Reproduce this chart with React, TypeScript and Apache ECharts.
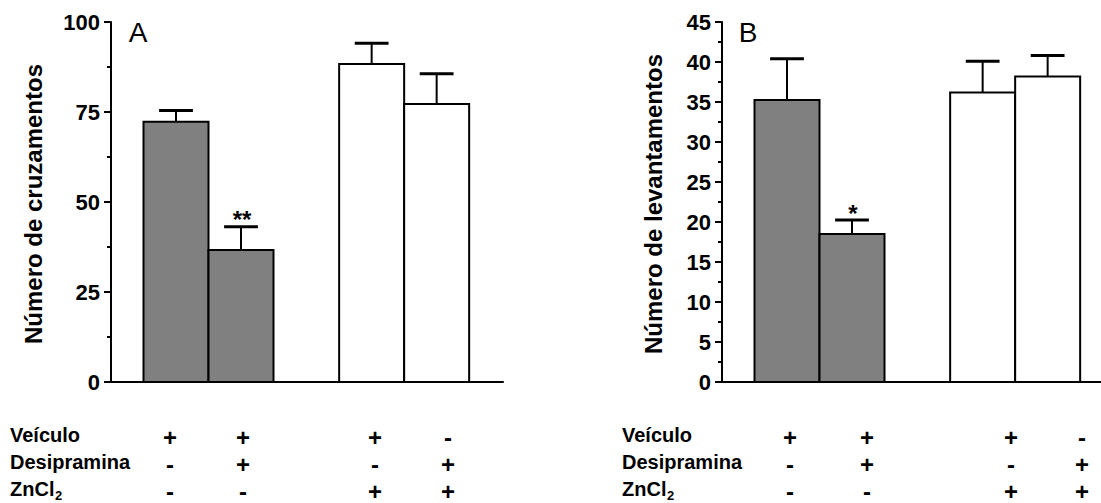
import React, { useEffect, useRef } from "react";
import * as echarts from "echarts";

// ---- data ----
const groupLabels = ["Veículo + Veículo", "Veículo + Desipramina", "Veículo + ZnCl2", "Desipramina + ZnCl2"];
const crossMeans = [72.3, 36.7, 88.3, 77.2];
const crossSem = [3.1, 6.4, 5.8, 8.4];
const crossSig = ["", "**", "", ""];
const rearMeans = [35.25, 18.5, 36.2, 38.2];
const rearSem = [5.15, 1.75, 3.9, 2.6];
const rearSig = ["", "*", "", ""];
const crossTicks = [0, 25, 50, 75, 100];
const rearTicks = [0, 5, 10, 15, 20, 25, 30, 35, 40, 45];
const rowLabels = ["Veículo", "Desipramina", "ZnCl"];
const signVeiculo = ["+", "+", "+", "-"];
const signDesipramina = ["-", "+", "-", "+"];
const signZnCl2 = ["-", "-", "+", "+"];

// ---- layout / style constants ----
const FONT = "Liberation Sans";
const slots = [1, 2, 4.01, 5.01];
const barFills = ["#808080", "#808080", "#ffffff", "#ffffff"];
const UNIT = 65;

function barSeries(means: number[], sems: number[], sigs: string[], idx: number) {
  return {
    type: "custom",
    xAxisIndex: idx,
    yAxisIndex: idx,
    clip: false,
    data: means.map((m, i) => ({ name: groupLabels[i], value: [slots[i], m, sems[i], i] })),
    renderItem: (params: any, api: any) => {
      const x = api.value(0);
      const m = api.value(1);
      const s = api.value(2);
      const i = api.value(3);
      const top = api.coord([x, m]);
      const base = api.coord([x, 0]);
      const et = api.coord([x, m + s]);
      const w = api.size([1, 0])[0];
      const capHalf = w * 0.26;
      const children: any[] = [
        {
          type: "rect",
          shape: { x: top[0] - w / 2, y: top[1], width: w, height: base[1] - top[1] },
          style: { fill: barFills[i], stroke: "#000", lineWidth: 2 },
        },
        {
          type: "line",
          shape: { x1: top[0], y1: top[1], x2: top[0], y2: et[1] },
          style: { stroke: "#000", lineWidth: 2 },
        },
        {
          type: "line",
          shape: { x1: top[0] - capHalf, y1: et[1], x2: top[0] + capHalf, y2: et[1] },
          style: { stroke: "#000", lineWidth: 3 },
        },
      ];
      if (sigs[i]) {
        children.push({
          type: "text",
          style: {
            text: sigs[i],
            x: top[0] + 1,
            y: et[1] - 7,
            align: "center",
            verticalAlign: "middle",
            fontSize: 24,
            fontWeight: 700,
            fontFamily: FONT,
            fill: "#000",
          },
        });
      }
      return { type: "group", children };
    },
  };
}

function yAxisCfg(idx: number, max: number, interval: number) {
  return {
    type: "value",
    gridIndex: idx,
    min: 0,
    max,
    interval,
    axisLine: { show: true, lineStyle: { color: "#000", width: 2 } },
    axisTick: { show: true, length: 7, lineStyle: { color: "#000", width: 2 } },
    minorTick: { show: true, splitNumber: 2, length: 4, lineStyle: { color: "#000", width: 2 } },
    splitLine: { show: false },
    axisLabel: { color: "#000", fontSize: 22, fontWeight: 700, fontFamily: FONT, margin: 11 },
  };
}

function xAxisCfg(idx: number, lengthPx: number) {
  return {
    type: "value",
    gridIndex: idx,
    min: 0,
    max: lengthPx / UNIT,
    axisLine: { show: true, onZero: false, lineStyle: { color: "#000", width: 2 } },
    axisTick: { show: false },
    axisLabel: { show: false },
    splitLine: { show: false },
  };
}

function tableGraphics(labelX: number, colX: number[]) {
  const rowsY = [435, 462, 489];
  const els: any[] = [];
  rowLabels.forEach((t, r) => {
    els.push({
      type: "text",
      style: { text: t, x: labelX, y: rowsY[r], align: "left", verticalAlign: "middle", fontSize: 20, fontWeight: 700, fontFamily: FONT, fill: "#000" },
    });
  });
  els.push({
    type: "text",
    style: { text: "2", x: labelX + 45, y: rowsY[2] + 6, align: "left", verticalAlign: "middle", fontSize: 13, fontWeight: 700, fontFamily: FONT, fill: "#000" },
  });
  [signVeiculo, signDesipramina, signZnCl2].forEach((row, r) => {
    row.forEach((s, c) => {
      els.push({
        type: "text",
        style: { text: s, x: colX[c], y: rowsY[r] + 2, align: "center", verticalAlign: "middle", fontSize: 24, fontWeight: 700, fontFamily: FONT, fill: "#000" },
      });
    });
  });
  return els;
}

export default function App() {
  const ref = useRef<HTMLDivElement>(null);
  useEffect(() => {
    if (!ref.current) return;
    const chart = echarts.init(ref.current, null, { renderer: "svg" });
    const graphic: any[] = [
      {
        type: "text",
        x: 33,
        y: 204,
        rotation: Math.PI / 2,
        style: { text: "Número de cruzamentos", align: "center", verticalAlign: "middle", fontSize: 24, fontWeight: 700, fontFamily: FONT, fill: "#000" },
      },
      {
        type: "text",
        x: 653,
        y: 204,
        rotation: Math.PI / 2,
        style: { text: "Número de levantamentos", align: "center", verticalAlign: "middle", fontSize: 24, fontWeight: 700, fontFamily: FONT, fill: "#000" },
      },
      {
        type: "text",
        style: { text: "A", x: 138, y: 32, align: "center", verticalAlign: "middle", fontSize: 28, fontFamily: FONT, fill: "#000" },
      },
      {
        type: "text",
        style: { text: "B", x: 748, y: 32, align: "center", verticalAlign: "middle", fontSize: 28, fontFamily: FONT, fill: "#000" },
      },
      ...tableGraphics(10, [170, 243, 375, 448]),
      ...tableGraphics(622, [790, 867, 1011, 1082]),
    ];
    chart.setOption({
      animation: false,
      backgroundColor: "#fff",
      textStyle: { fontFamily: FONT },
      grid: [
        { left: 111, top: 22, width: 392, height: 360 },
        { left: 722, top: 22, width: 379, height: 360 },
      ],
      xAxis: [xAxisCfg(0, 392), xAxisCfg(1, 379)],
      yAxis: [
        yAxisCfg(0, crossTicks[crossTicks.length - 1], crossTicks[1] - crossTicks[0]),
        yAxisCfg(1, rearTicks[rearTicks.length - 1], rearTicks[1] - rearTicks[0]),
      ],
      series: [barSeries(crossMeans, crossSem, crossSig, 0), barSeries(rearMeans, rearSem, rearSig, 1)],
      graphic,
    });
    return () => chart.dispose();
  }, []);
  return <div ref={ref} style={{ position: "fixed", left: 0, top: 0, width: 1101, height: 503 }} />;
}
